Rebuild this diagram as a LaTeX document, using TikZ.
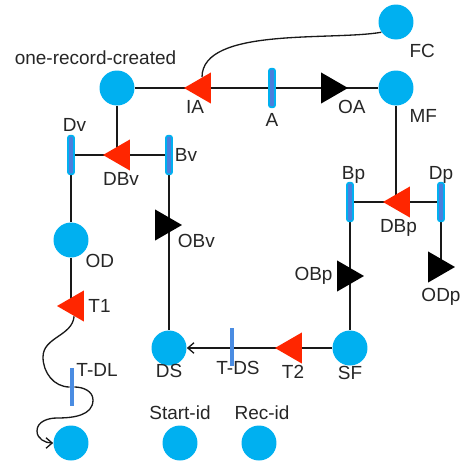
\documentclass[tikz,border=0pt]{standalone}
\usepackage{fontspec}
\setmainfont{Liberation Sans}
\usetikzlibrary{shapes.geometric,arrows.meta,backgrounds}
\definecolor{placeblue}{RGB}{0,176,240}
\definecolor{barblue}{RGB}{74,126,220}
\definecolor{thinblue}{RGB}{74,140,226}
\definecolor{transred}{RGB}{255,38,0}

\begin{document}
\begin{tikzpicture}[x=0.02cm, y=-0.02cm,
    place/.style={circle, fill=placeblue, minimum size=0.7cm, inner sep=0pt},
    bar/.style={rectangle, rounded corners=1.2pt, draw=placeblue, line width=1pt, fill=barblue,
        minimum width=0.12cm, minimum height=0.77cm, inner sep=0pt},
    thinbar/.style={rectangle, fill=thinblue, minimum width=0.08cm, minimum height=0.77cm, inner sep=0pt},
    redtrans/.style={regular polygon, regular polygon sides=3, shape border rotate=90,
        fill=transred, minimum size=0.72cm, inner sep=0pt},
    blacktrans/.style={regular polygon, regular polygon sides=3, shape border rotate=-90,
        fill=black, minimum size=0.72cm, inner sep=0pt},
    lbl/.style={font=\fontsize{10.8}{12}\selectfont, text=black!85, inner sep=1pt},
    every label/.style={lbl},
    arc/.style={draw=black!90, line width=0.75pt},
    arr/.style={arc, -{Straight Barb[length=3.5pt,width=6pt]}}
]
    \useasboundingbox (0,0) rectangle (461,464);

    % top row
    \node[place, label={[xshift=-0.43cm, label distance=0.07cm]above:one-record-created}] (orc) at (117,88) {};
    \node[place, label={[label distance=0.1cm]-60:FC}] (fc) at (396,22) {};
    \node[place, label={[label distance=0.1cm]-60:MF}] (mf) at (396,88) {};
    \node[redtrans, label={[xshift=-0.14cm]below:IA}] (ia) at (202,88) {};
    \node[bar, label={[label distance=0.07cm]below:A}] (a) at (272,88) {};
    \node[blacktrans, label={[label distance=0.05cm]-60:OA}] (oa) at (330,88) {};

    % left branch
    \node[bar, label={[xshift=0.07cm, label distance=0.02cm]above:Dv}] (dv) at (71,155) {};
    \node[redtrans, label={[label distance=0.1cm]below:DBv}] (dbv) at (121,155) {};
    \node[bar, label=right:Bv] (bv) at (169,155) {};
    \node[blacktrans, label={[xshift=0.1cm]-45:OBv}] (obv) at (164,225) {};
    \node[place, label=-45:OD] (od) at (71,240) {};
    \node[redtrans, label={[label distance=0.04cm]right:T1}] (t1) at (75,306) {};
    \node[thinbar, label={[yshift=0.34cm]right:T-DL}] (tdl) at (72,387) {};
    \node[place] (dl) at (71,443) {};
    \node[place, label={[label distance=0.07cm]above:Start-id}] (start) at (180,443) {};
    \node[place, label={[xshift=0.06cm, label distance=0.07cm]above:Rec-id}] (rec) at (259,443) {};

    % bottom row
    \node[place, label={[label distance=-0.08cm]below:DS}] (ds) at (169,348) {};
    \node[thinbar, label={[xshift=0.12cm, yshift=0.15cm]below:T-DS}] (tds) at (232,347) {};
    \node[redtrans, label={[label distance=0.09cm]below:T2}] (t2) at (293,348) {};
    \node[place, label={[label distance=-0.04cm]below:SF}] (sf) at (350,348) {};

    % right branch
    \node[bar, label={[xshift=0.07cm, label distance=-0.07cm]above:Bp}] (bp) at (350,202) {};
    \node[redtrans, label={[xshift=-0.05cm, label distance=0.1cm]below:DBp}] (dbp) at (401,202) {};
    \node[bar, label={[label distance=-0.07cm]above:Dp}] (dp) at (441,202) {};
    \node[blacktrans, label={[label distance=0.04cm]left:OBp}] (obp) at (346,276) {};
    \node[blacktrans, label={[xshift=0.08cm, label distance=0.16cm]below:ODp}] (odp) at (437,267) {};

    \begin{scope}[on background layer]
        \draw[arc] (orc) -- (mf);
        \draw[arc] (ia) to[out=90, in=190, looseness=0.7] (fc.215);
        \draw[arc] (orc) -- (orc |- dbv);
        \draw[arc] (dv) -- (bv);
        \draw[arc] (dv) -- (od);
        \draw[arc] (od) -- (od |- t1);
        \draw[arr] (t1) to[out=-95, in=90] (43,357) to[out=-90, in=180] (tdl)
            to[out=0, in=90] (93,400) to[out=-90, in=0] (57,418)
            to[out=180, in=90] (37,431) to[out=-90, in=180] (dl);
        \draw[arc] (bv) -- (ds);
        \draw[arr] (sf) -- (ds);
        \draw[arc] (mf) -- (mf |- dbp);
        \draw[arc] (bp) -- (dp);
        \draw[arc] (bp) -- (sf);
        \draw[arc] (dp) -- (dp |- odp);
    \end{scope}
\end{tikzpicture}
\end{document}
